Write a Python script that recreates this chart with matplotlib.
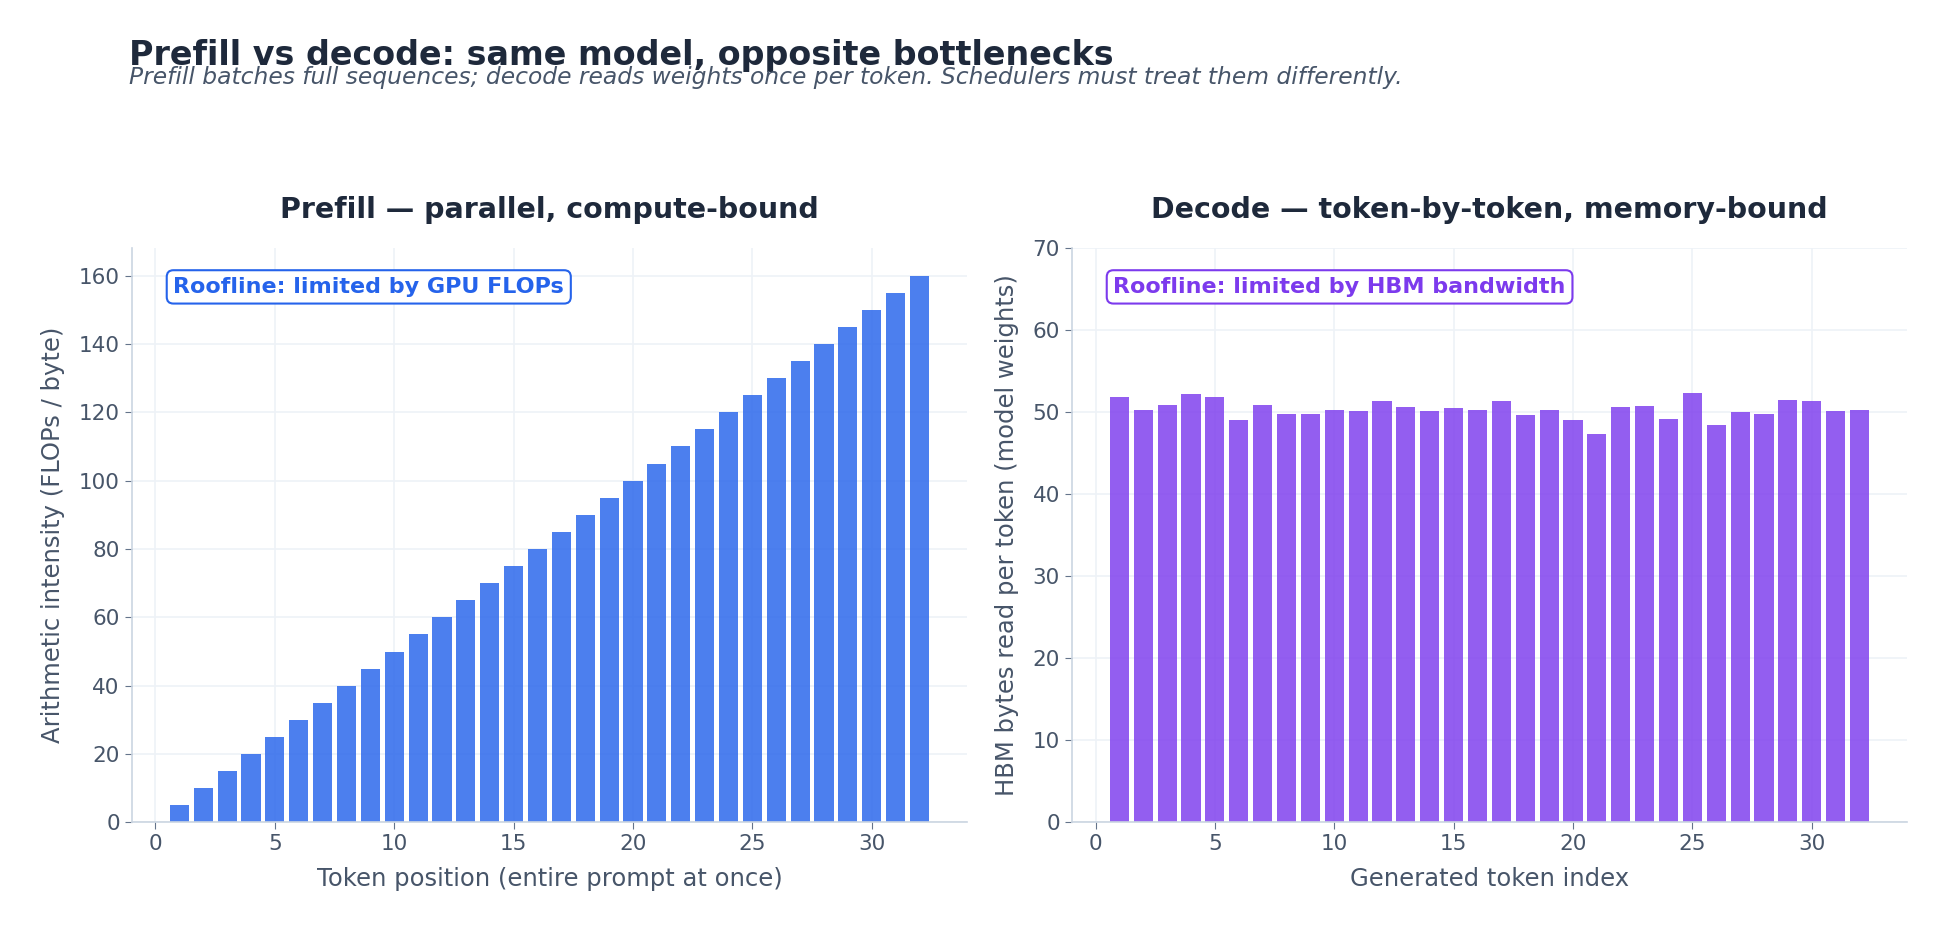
import matplotlib
matplotlib.use("Agg")
import matplotlib.pyplot as plt

# prefill: arithmetic intensity per token position
prefill_pos = list(range(1, 33))
prefill_intensity = [5, 10, 15, 20, 25, 30, 35, 40, 45, 50, 55, 60, 65, 70, 75, 80,
                     85, 90, 95, 100, 105, 110, 115, 120, 125, 130, 135, 140, 145, 150, 155, 160]

# decode: HBM bytes read per generated token
decode_idx = list(range(1, 33))
decode_bytes = [51.8, 50.3, 50.9, 52.2, 51.8, 49.0, 50.9, 49.8, 49.8, 50.3, 50.1, 51.4,
                50.7, 50.1, 50.5, 50.3, 51.4, 49.7, 50.3, 49.1, 47.4, 50.6, 50.8, 49.2,
                52.3, 48.5, 50.0, 49.8, 51.5, 51.4, 50.1, 50.3]

TITLE = "#1e293b"
MUTED = "#475569"
SPINE = "#cbd5e1"
GRID = "#eef2f7"
BLUE = "#2563eb"
PURPLE = "#7c3aed"

fig = plt.figure(figsize=(19.47, 9.33), dpi=100)
ax1 = fig.add_axes([0.0676, 0.1185, 0.4292, 0.6155])
ax2 = fig.add_axes([0.5504, 0.1185, 0.4292, 0.6155])

fig.text(0.0663, 0.930, "Prefill vs decode: same model, opposite bottlenecks",
         fontsize=24, fontweight="bold", color=TITLE, ha="left", va="baseline")
fig.text(0.0663, 0.910, "Prefill batches full sequences; decode reads weights once per token. "
         "Schedulers must treat them differently.",
         fontsize=16.8, style="italic", color=MUTED, ha="left", va="baseline")


def style(ax):
    for s in ["top", "right"]:
        ax.spines[s].set_visible(False)
    for s in ["left", "bottom"]:
        ax.spines[s].set_color(SPINE)
        ax.spines[s].set_linewidth(1.2)
    ax.grid(True, color=GRID, linewidth=1.2)
    ax.set_axisbelow(True)
    ax.tick_params(colors="#64748b", labelcolor=MUTED, labelsize=15.5, length=5)
    ax.set_xlim(-1, 34)


ax1.bar(prefill_pos, prefill_intensity, width=0.8, color=BLUE, alpha=0.82)
style(ax1)
ax1.set_ylim(0, 168)
ax1.set_title("Prefill — parallel, compute-bound", fontsize=20.5, fontweight="bold",
              color=TITLE, pad=22)
ax1.set_xlabel("Token position (entire prompt at once)", fontsize=17.5, color=MUTED, labelpad=9)
ax1.set_ylabel("Arithmetic intensity (FLOPs / byte)", fontsize=17.5, color=MUTED, labelpad=10)
ax1.text(0.05, 0.95, "Roofline: limited by GPU FLOPs", transform=ax1.transAxes,
         fontsize=16, fontweight="bold", color=BLUE, va="top", ha="left",
         bbox=dict(boxstyle="round,pad=0.3", facecolor="white", edgecolor=BLUE, linewidth=1.5))

ax2.bar(decode_idx, decode_bytes, width=0.8, color=PURPLE, alpha=0.82)
style(ax2)
ax2.set_ylim(0, 70)
ax2.set_title("Decode — token-by-token, memory-bound", fontsize=20.5, fontweight="bold",
              color=TITLE, pad=22)
ax2.set_xlabel("Generated token index", fontsize=17.5, color=MUTED, labelpad=9)
ax2.set_ylabel("HBM bytes read per token (model weights)", fontsize=17.5, color=MUTED, labelpad=10)
ax2.text(0.05, 0.95, "Roofline: limited by HBM bandwidth", transform=ax2.transAxes,
         fontsize=16, fontweight="bold", color=PURPLE, va="top", ha="left",
         bbox=dict(boxstyle="round,pad=0.3", facecolor="white", edgecolor=PURPLE, linewidth=1.5))

fig.savefig("out.png", dpi=100)
